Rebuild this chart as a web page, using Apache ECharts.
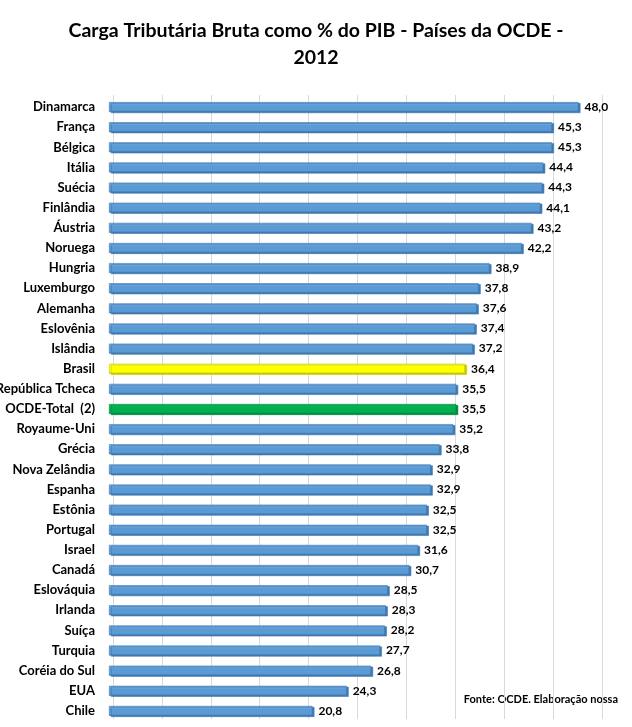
<!DOCTYPE html>
<html><head><meta charset="utf-8">
<script src="https://cdn.jsdelivr.net/npm/echarts@6/dist/echarts.min.js"></script>
<style>html,body{margin:0;padding:0;background:#fff}#c{width:632px;height:727px}</style>
</head><body><div id="c"></div>
<script>
const categories = ["Dinamarca","França","Bélgica","Itália","Suécia","Finlândia","Áustria","Noruega","Hungria","Luxemburgo","Alemanha","Eslovênia","Islândia","Brasil","República Tcheca","OCDE-Total  (2)","Royaume-Uni","Grécia","Nova Zelândia","Espanha","Estônia","Portugal","Israel","Canadá","Eslováquia","Irlanda","Suíça","Turquia","Coréia do Sul","EUA","Chile"];
const values = [48.0,45.3,45.3,44.4,44.3,44.1,43.2,42.2,38.9,37.8,37.6,37.4,37.2,36.4,35.5,35.5,35.2,33.8,32.9,32.9,32.5,32.5,31.6,30.7,28.5,28.3,28.2,27.7,26.8,24.3,20.8];
const highlight = {"Brasil":"yellow","OCDE-Total  (2)":"green"};
const titleText = "Carga Tributária Bruta como % do PIB - Países da OCDE -\n2012";
const sourceText = "Fonte: OCDE. Elaboração nossa";

const palettes = {
  blue:  ['#7fb2e5','#5b9bd5','#3f78b0'],
  yellow:['#ffff66','#ffff00','#c8c800'],
  green: ['#22c46a','#00b050','#008a3e']
};
function grad(p){
  return new echarts.graphic.LinearGradient(0,0,0,1,[
    {offset:0,color:p[0]},{offset:0.35,color:p[1]},{offset:0.8,color:p[1]},{offset:1,color:p[2]}]);
}
const data = categories.map((c,i)=>{
  const key = highlight[c] || 'blue';
  const p = palettes[key];
  return {value: values[i], itemStyle:{color:grad(p), borderColor:p[2], borderWidth:0.6,
    shadowColor:p[2], shadowOffsetX:2, shadowOffsetY:1, shadowBlur:0}};
});

const chart = echarts.init(document.getElementById('c'));
chart.setOption({
  animation:false,
  title:{text:titleText,left:'center',top:12,itemGap:0,
    textStyle:{fontFamily:'Lato',fontWeight:'bold',fontSize:19.5,color:'#000',lineHeight:27}},
  graphic:[{type:'text',right:14,top:694,style:{text:sourceText,fontFamily:'Lato',fontWeight:'bold',fontSize:11,fill:'#000'}}],
  grid:[
    {left:109,top:97,width:489,height:624,containLabel:false,outerBoundsMode:'none'},
    {left:113,top:95,width:489,height:624,containLabel:false,outerBoundsMode:'none'}
  ],
  xAxis:[
    {gridIndex:0,type:'value',min:0,max:50,interval:5,axisLine:{show:false},axisTick:{show:false},axisLabel:{show:false},splitLine:{show:false}},
    {gridIndex:1,type:'value',min:0,max:50,interval:5,axisLine:{show:false},axisTick:{show:false},axisLabel:{show:false},
      splitLine:{show:true,lineStyle:{color:'#d9d9d9',width:1}}}
  ],
  yAxis:[
    {gridIndex:0,type:'category',data:categories,inverse:true,axisLine:{show:false},axisTick:{show:false},
      axisLabel:{margin:14,fontFamily:'Lato',fontWeight:'bold',fontSize:13,color:'#000'}},
    {gridIndex:1,type:'category',data:categories,inverse:true,show:false}
  ],
  series:[{
    type:'bar',xAxisIndex:0,yAxisIndex:0,data:data,barWidth:10,
    label:{show:true,position:'right',distance:6,fontFamily:'Lato',fontWeight:'bold',fontSize:12,color:'#000',
      formatter:p=>p.value.toFixed(1).replace('.',',')}
  }]
});
</script></body></html>
